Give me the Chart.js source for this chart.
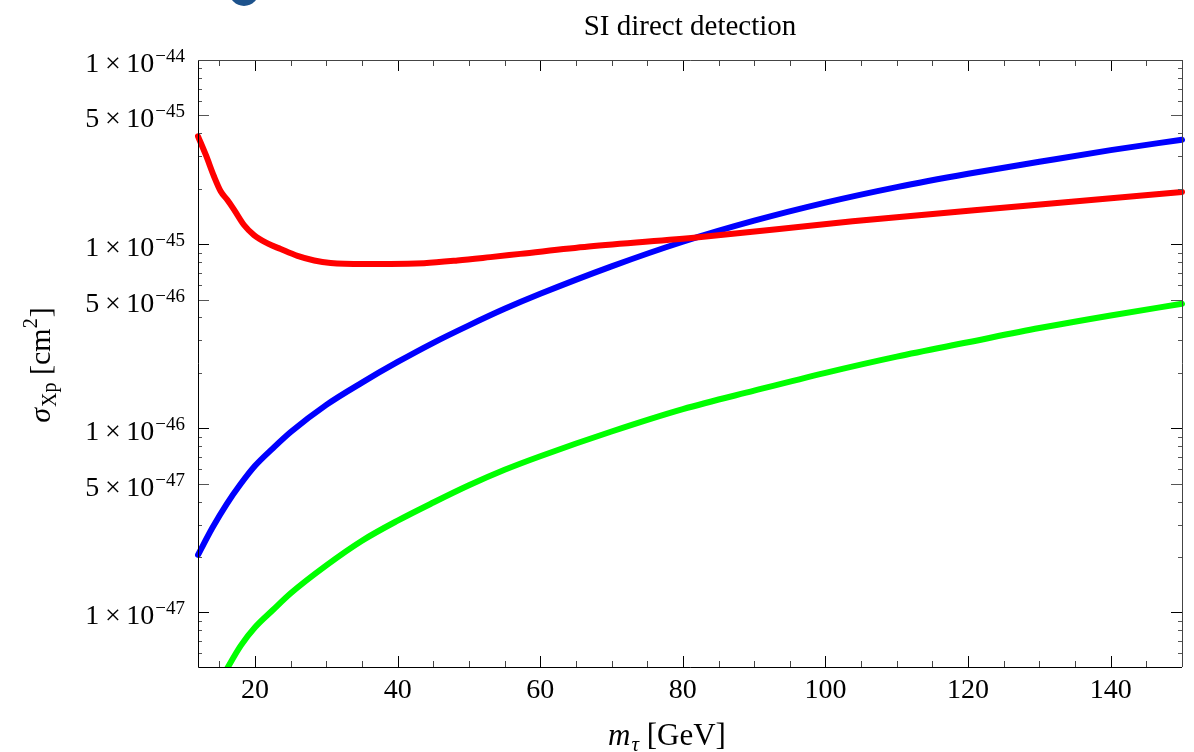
<!DOCTYPE html>
<html>
<head>
<meta charset="utf-8">
<script src="https://cdn.jsdelivr.net/npm/chart.js@4/dist/chart.umd.min.js"></script>
<style>
  html, body { margin: 0; padding: 0; background: #fff; }
  #wrap { position: relative; width: 1194px; height: 752px; overflow: hidden; }
  #dot { position: absolute; left: 229px; top: -24px; width: 30px; height: 30px; border-radius: 50%; background: #1d528c; }
  canvas { position: absolute; left: 0; top: 0; }
</style>
</head>
<body>
<div id="wrap">
  <canvas id="c" width="1194" height="752"></canvas>
  <div id="dot"></div>
</div>
<script>
// Mediator mass m_tau (GeV) and spin-independent cross sections (cm^2)
const massRed = [12.0, 13.1, 14.25, 15.2, 16.1, 17.05, 18.45, 19.85, 21.75, 23.6, 25.95, 28.3, 30.6, 35.3, 39.0, 43.7, 48.4, 53.0, 57.2, 66.8, 82.2, 103.8, 128.5, 150];
const sigmaRed = [3.85e-45, 3.05e-45, 2.33e-45, 1.93e-45, 1.74e-45, 1.54e-45, 1.27e-45, 1.12e-45, 1.01e-45, 9.4e-46, 8.63e-46, 8.15e-46, 7.9e-46, 7.8e-46, 7.8e-46, 7.88e-46, 8.15e-46, 8.5e-46, 8.85e-46, 9.7e-46, 1.09e-45, 1.33e-45, 1.62e-45, 1.92e-45];

const massBlue = [12, 14, 16, 18, 20, 22.5, 25, 30, 35, 40, 45, 50, 55, 60, 70, 80, 90, 100, 110, 120, 130, 140, 150];
const sigmaBlue = [2.05e-47, 2.87e-47, 3.86e-47, 4.99e-47, 6.25e-47, 7.78e-47, 9.54e-47, 1.34e-46, 1.77e-46, 2.29e-46, 2.91e-46, 3.62e-46, 4.45e-46, 5.37e-46, 7.57e-46, 1.03e-45, 1.34e-45, 1.68e-45, 2.04e-45, 2.41e-45, 2.8e-45, 3.24e-45, 3.69e-45];

const massGreen = [15.8, 18, 20, 22.5, 25, 30, 35, 40, 45, 50, 55, 60, 70, 80, 90, 100, 110, 120, 130, 140, 150];
const sigmaGreen = [4.75e-48, 6.6e-48, 8.3e-48, 1.03e-47, 1.27e-47, 1.8e-47, 2.45e-47, 3.15e-47, 3.95e-47, 4.9e-47, 5.95e-47, 7.05e-47, 9.6e-47, 1.27e-46, 1.6e-46, 2.0e-46, 2.45e-46, 2.93e-46, 3.5e-46, 4.1e-46, 4.74e-46];

// Axis ranges and labelled ticks
const xMin = 12, xMax = 150;
const yMin = 5.05e-48, yMax = 1e-44;
const xTickLabels = [20, 40, 60, 80, 100, 120, 140];
const yTickMantissas = [1, 5, 1, 5, 1, 5, 1];
const yTickExponents = [-44, -45, -45, -46, -46, -47, -47];

const SERIF = '"Liberation Serif", "DejaVu Serif", serif';

function pts(xs, ys) { return xs.map((x, i) => ({ x: x, y: ys[i] })); }

// Draw a sequence of text runs (each with its own font and vertical shift)
function drawRuns(ctx, runs, x, y, align) {
  let total = 0;
  runs.forEach(r => { ctx.font = r.f; r.w = ctx.measureText(r.t).width; total += r.w + (r.gap || 0); });
  let cx = align === 'right' ? x - total : align === 'center' ? x - total / 2 : x;
  runs.forEach(r => {
    ctx.font = r.f;
    ctx.textAlign = 'left';
    ctx.textBaseline = 'alphabetic';
    cx += (r.gap || 0);
    ctx.fillText(r.t, cx, y + (r.dy || 0));
    cx += r.w;
  });
}

const framePlugin = {
  id: 'frame',
  afterDatasetsDraw(chart) {
    const ctx = chart.ctx;
    const a = chart.chartArea;
    const xs = chart.scales.x, ys = chart.scales.y;
    ctx.save();
    ctx.fillStyle = '#000';
    ctx.lineWidth = 1;

    // x ticks every 5, major every 20, on bottom and top edges
    for (let v = 15; v <= xMax; v += 5) {
      const px = Math.round(xs.getPixelForValue(v)) + 0.5;
      const major = v % 20 === 0;
      const len = major ? 11 : 6;
      ctx.strokeStyle = major ? '#000' : '#444';
      ctx.beginPath();
      ctx.moveTo(px, a.bottom); ctx.lineTo(px, a.bottom - len);
      ctx.moveTo(px, a.top); ctx.lineTo(px, a.top + len);
      ctx.stroke();
    }
    // log y ticks: 1 and 5 long, the rest short; left and right edges
    for (let e = -48; e <= -44; e++) {
      for (let m = 1; m <= 9; m++) {
        const v = m * Math.pow(10, e);
        if (v < yMin * 0.999 || v > yMax * 1.001) continue;
        const py = Math.round(ys.getPixelForValue(v)) + 0.5;
        const major = (m === 1 || m === 5);
        const len = major ? 11 : 4;
        ctx.strokeStyle = m === 1 ? '#000' : '#555';
        ctx.beginPath();
        ctx.moveTo(a.left, py); ctx.lineTo(a.left + len, py);
        ctx.moveTo(a.right, py); ctx.lineTo(a.right - len, py);
        ctx.stroke();
      }
    }
    // frame
    ctx.strokeStyle = '#000';
    ctx.beginPath();
    ctx.moveTo(Math.round(a.left) + 0.5, a.top);
    ctx.lineTo(Math.round(a.left) + 0.5, Math.round(a.bottom) + 0.5);
    ctx.lineTo(a.right, Math.round(a.bottom) + 0.5);
    ctx.stroke();
    ctx.strokeStyle = '#444';
    ctx.beginPath();
    ctx.moveTo(a.left, Math.round(a.top) + 0.5);
    ctx.lineTo(Math.round(a.right) + 0.5, Math.round(a.top) + 0.5);
    ctx.lineTo(Math.round(a.right) + 0.5, a.bottom);
    ctx.stroke();

    // x tick labels
    ctx.fillStyle = '#000';
    ctx.font = '28px ' + SERIF;
    ctx.textAlign = 'center';
    ctx.textBaseline = 'alphabetic';
    xTickLabels.forEach(v => {
      ctx.fillText(String(v), xs.getPixelForValue(v), a.bottom + 31);
    });
    // y tick labels: m×10^e
    yTickMantissas.forEach((m, i) => {
      const e = yTickExponents[i];
      const py = ys.getPixelForValue(m * Math.pow(10, e));
      drawRuns(ctx, [
        { t: m + '\u2009×\u200910', f: '28px ' + SERIF },
        { t: '\u2212' + Math.abs(e), f: '19px ' + SERIF, dy: -10, gap: 1 }
      ], a.left - 13, py + 12, 'right');
    });

    // title
    ctx.font = '29px ' + SERIF;
    ctx.textAlign = 'center';
    ctx.fillText('SI direct detection', (a.left + a.right) / 2, 35);

    // x axis title
    drawRuns(ctx, [
      { t: 'm', f: 'italic 31px ' + SERIF },
      { t: 'τ', f: 'italic 21px ' + SERIF, dy: 6, gap: 1 },
      { t: ' [GeV]', f: '31px ' + SERIF }
    ], 667, 745, 'center');

    // y axis title
    ctx.save();
    ctx.translate(50, 365);
    ctx.rotate(-Math.PI / 2);
    drawRuns(ctx, [
      { t: 'σ', f: 'italic 30px ' + SERIF },
      { t: 'Xp', f: '20px ' + SERIF, dy: 6, gap: 1 },
      { t: ' [cm', f: '30px ' + SERIF },
      { t: '2', f: '20px ' + SERIF, dy: -13 },
      { t: ']', f: '30px ' + SERIF, gap: 1 }
    ], 0, 0, 'center');
    ctx.restore();

    ctx.restore();
  }
};

function ds(label, xs, ys, color) {
  return {
    label: label,
    data: pts(xs, ys),
    borderColor: color,
    backgroundColor: color,
    borderWidth: 6,
    pointRadius: 0,
    fill: false,
    cubicInterpolationMode: 'monotone',
    borderCapStyle: 'round',
    borderJoinStyle: 'round',
    clip: { left: 3, right: 3, top: 0, bottom: 0 }
  };
}

new Chart(document.getElementById('c'), {
  type: 'line',
  data: {
    datasets: [
      ds('red', massRed, sigmaRed, '#ff0000'),
      ds('green', massGreen, sigmaGreen, '#00ff00'),
      ds('blue', massBlue, sigmaBlue, '#0000ff')
    ]
  },
  options: {
    responsive: false,
    animation: false,
    devicePixelRatio: 1,
    layout: { padding: { top: 60, right: 12, left: 0, bottom: 0 } },
    plugins: { legend: { display: false }, tooltip: { enabled: false }, title: { display: false } },
    scales: {
      x: {
        type: 'linear', min: xMin, max: xMax,
        grid: { display: false }, border: { display: false },
        ticks: { display: false },
        afterFit(s) { s.height = 85; }
      },
      y: {
        type: 'logarithmic', min: yMin, max: yMax,
        grid: { display: false }, border: { display: false },
        ticks: { display: false },
        afterFit(s) { s.width = 198; }
      }
    }
  },
  plugins: [framePlugin]
});
</script>
</body>
</html>
